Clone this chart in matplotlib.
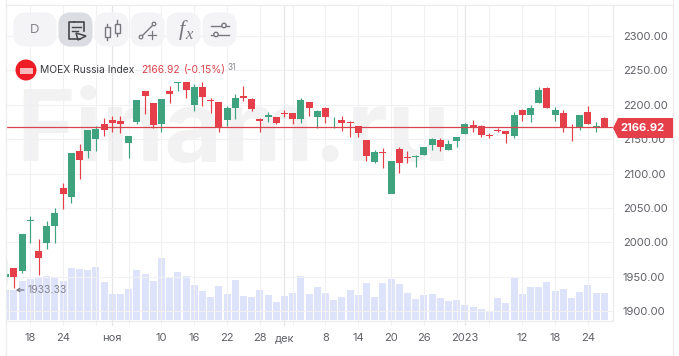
import matplotlib
matplotlib.use("Agg")
import matplotlib.pyplot as plt
from matplotlib.patches import FancyBboxPatch, Polygon, Circle, Rectangle

plt.rcParams["font.family"] = ["Inter", "DejaVu Sans"]

# daily candles
opens = [1949.5, 1962.6, 1958.2, 2030.9, 1987.3, 1998.9, 2023.6, 2079.3, 2065.8, 2132.7,
         2132.7, 2150.2, 2172.0, 2177.8, 2176.4, 2144.4, 2175.0, 2220.0, 2202.5, 2172.0,
         2220.0, 2231.6, 2233.1, 2199.6, 2225.8, 2206.9, 2204.0, 2177.8, 2195.3, 2212.7,
         2208.4, 2179.3, 2182.2, 2182.2, 2188.0, 2188.0, 2179.3, 2204.0, 2182.2, 2195.3,
         2174.2, 2177.8, 2174.9, 2169.1, 2148.7, 2116.7, 2129.8, 2070.2, 2135.6, 2124.0,
         2124.0, 2126.9, 2141.5, 2148.7, 2134.2, 2147.3, 2157.5, 2170.5, 2169.1, 2156.0,
         2163.3, 2161.8, 2154.5, 2192.4, 2185.1, 2202.5, 2224.4, 2185.1, 2188.0, 2167.6,
         2167.6, 2189.5, 2167.6, 2180.7]
highs = [1974.2, 1962.6, 2012.0, 2038.2, 2004.7, 2030.9, 2049.8, 2086.2, 2130.0, 2143.0,
         2163.3, 2169.0, 2181.0, 2183.6, 2183.6, 2146.0, 2206.9, 2220.0, 2202.5, 2208.4,
         2227.3, 2233.1, 2233.1, 2230.0, 2233.1, 2209.8, 2204.0, 2198.2, 2215.6, 2227.3,
         2209.8, 2181.0, 2189.5, 2182.2, 2192.4, 2188.0, 2209.8, 2204.0, 2192.4, 2196.7,
         2182.2, 2183.6, 2176.4, 2169.1, 2148.7, 2134.2, 2137.1, 2070.2, 2138.5, 2133.0,
         2127.0, 2138.5, 2151.6, 2151.6, 2148.7, 2153.1, 2173.5, 2177.8, 2170.5, 2159.0,
         2166.0, 2161.8, 2189.5, 2193.8, 2199.6, 2226.0, 2225.8, 2196.7, 2192.4, 2172.0,
         2185.1, 2198.2, 2174.9, 2182.2]
lows = [1939.3, 1933.33, 1955.3, 1998.9, 1952.4, 1990.2, 1998.9, 2048.4, 2057.1, 2092.0,
        2122.5, 2132.7, 2154.5, 2160.4, 2158.9, 2122.5, 2172.0, 2186.5, 2166.2, 2160.4,
        2202.5, 2220.0, 2209.8, 2190.9, 2198.2, 2188.0, 2160.4, 2169.1, 2179.3, 2205.5,
        2190.9, 2161.0, 2174.9, 2172.0, 2182.2, 2172.0, 2173.5, 2183.6, 2166.2, 2173.5,
        2166.2, 2161.8, 2153.1, 2153.1, 2118.0, 2115.3, 2108.0, 2070.2, 2100.7, 2115.0,
        2109.5, 2126.9, 2134.2, 2132.7, 2134.2, 2138.5, 2157.5, 2160.4, 2153.1, 2151.6,
        2160.4, 2144.4, 2151.6, 2176.4, 2175.0, 2202.5, 2195.3, 2176.4, 2160.4, 2147.3,
        2163.3, 2172.0, 2160.4, 2166.92]
closes = [1953.8, 1949.5, 2012.0, 2032.0, 1977.1, 2023.6, 2042.5, 2070.5, 2130.0, 2120.0,
          2163.3, 2164.7, 2163.3, 2173.5, 2172.0, 2154.5, 2206.9, 2212.7, 2170.5, 2208.4,
          2215.6, 2233.1, 2221.5, 2225.8, 2211.3, 2205.5, 2166.2, 2195.3, 2209.8, 2209.8,
          2193.8, 2176.4, 2185.1, 2173.5, 2186.5, 2179.3, 2206.9, 2195.3, 2190.9, 2182.2,
          2174.9, 2173.5, 2173.5, 2158.9, 2125.5, 2131.3, 2129.3, 2118.2, 2115.3, 2122.5,
          2125.0, 2138.5, 2150.2, 2138.5, 2142.9, 2153.1, 2172.0, 2167.6, 2156.0, 2155.0,
          2162.0, 2157.5, 2185.1, 2185.1, 2195.3, 2221.5, 2195.3, 2192.4, 2167.6, 2166.2,
          2185.1, 2172.0, 2169.1, 2166.92]
volumes = [30, 30, 39, 41, 43, 44, 43, 39, 52, 51, 50, 53, 38, 26, 26, 31, 50, 46, 39, 62,
           43, 48, 44, 35, 29, 23, 34, 26, 40, 24, 23, 30, 25, 18, 24, 27, 44, 26, 33, 27,
           20, 23, 30, 25, 37, 23, 37, 41, 36, 27, 21, 25, 26, 22, 19, 20, 15, 13, 11, 8,
           22, 17, 43, 26, 33, 33, 38, 29, 31, 22, 28, 35, 27, 27]

grid_idx = [3, 7, 11, 15, 19, 23, 27, 31, 35, 39, 43, 47, 51, 55, 59, 63, 67, 71]
month_idx = [13, 34, 56]
label_idx = [3, 7, 13, 19, 23, 27, 31, 34, 39, 43, 47, 51, 56, 63, 67, 71]
label_txt = ["18", "24", "ноя", "10", "16", "22", "28", "дек", "8", "14", "20", "26",
             "2023", "12", "18", "24"]
price_ticks = [1900, 1950, 2000, 2050, 2100, 2150, 2200, 2250, 2300]
last_price = 2166.92
low_price = 1933.33

UP = "#3fa37f"
DOWN = "#e5404a"
VOL = "#dde3fa"
GRID = "#f1f1f3"
W, H = 679, 356

fig = plt.figure(figsize=(W / 100, H / 100), dpi=100, facecolor="white")


def pixel_axes(z):
    a = fig.add_axes([0, 0, 1, 1], zorder=z)
    a.set_xlim(0, W)
    a.set_ylim(H, 0)
    a.axis("off")
    return a


# watermark sits under everything
back = pixel_axes(0)
back.text(16, 161, "Finam.ru", fontsize=72, fontweight="bold", family="Inter",
          color="#f2f2f3", va="baseline", ha="left")

# price panel, x is the bar number
left, right, top, bottom = 6, 613, 5, 326
vol = fig.add_axes([left / W, 1 - bottom / H, (right - left) / W, (bottom - top) / H], zorder=1)
ax = fig.add_axes(vol.get_position(), zorder=2)
ax.patch.set_visible(False)
vol.patch.set_visible(False)

x0 = 5.7
step = 8.2
xlim = ((left - x0) / step, (right - x0) / step)
ax.set_xlim(xlim)
vol.set_xlim(xlim)
px = 1.4545
ax.set_ylim(2300 - (bottom - 36) * px, 2300 + (36 - top) * px)
vol.set_ylim(-6, 315)

idx = list(range(len(opens)))
vol.bar(idx, volumes, width=0.85, color=VOL, linewidth=0)
vol.set_xticks([])
vol.set_yticks([])

for i in idx:
    c = UP if closes[i] >= opens[i] else DOWN
    ax.vlines(i, lows[i], highs[i], color=c, linewidth=0.85, zorder=3)
    lo = min(opens[i], closes[i])
    hi = max(opens[i], closes[i])
    ax.bar(i, max(hi - lo, 1.4), bottom=lo, width=0.85, color=c, linewidth=0, zorder=4)

ax.set_axisbelow(True)
ax.yaxis.tick_right()
ax.set_yticks(price_ticks)
ax.set_yticklabels(["%.2f" % p for p in price_ticks])
ax.set_xticks(label_idx)
ax.set_xticklabels(label_txt)
ax.tick_params(axis="both", length=0, labelsize=8, labelcolor="#5f6066")
ax.tick_params(axis="y", pad=7)
ax.tick_params(axis="x", pad=5)
ax.grid(axis="y", color=GRID, linewidth=0.8)
ax.grid(axis="x", visible=False)
for g in grid_idx:
    ax.axvline(g, color=GRID, linewidth=0.8, zorder=0)
for g in month_idx:
    ax.axvline(g, color="#e6e6ea", linewidth=0.9, zorder=0)
for s in ax.spines.values():
    s.set_visible(False)
for s in vol.spines.values():
    s.set_visible(False)

ax.axhline(last_price, color="#d9444c", linewidth=0.9, zorder=5)

# frame, toolbar, legend and price tag in pixels
ui = pixel_axes(3)
for xs, ys in [([6, 673], [5, 5]), ([6, 6], [0, H]), ([673, 673], [0, H]),
               ([613, 613], [5, 321]), ([6, 613], [320.5, 320.5])]:
    ui.plot(xs, ys, color="#ececef", linewidth=0.9, zorder=1)

buttons = [(15, 40), (60, 31), (96, 31), (132, 31), (168, 31), (204, 31)]
for n, (bx, bw) in enumerate(buttons):
    ui.add_patch(FancyBboxPatch((bx + 4, 18), bw - 8, 23, boxstyle="round,pad=0,rounding_size=6",
                                mutation_aspect=1, linewidth=8,
                                edgecolor="#dcdde2" if n == 1 else "#f4f4f7",
                                facecolor="#dcdde2" if n == 1 else "#f4f4f7", zorder=2))
ui.text(35, 30, "D", fontsize=9.5, color="#85868c", ha="center", va="center", zorder=3)

# note icon
dark = "#45464c"
ui.plot([80, 69, 69, 74], [39, 39, 22, 22], color=dark, linewidth=1.2, zorder=3)
ui.plot([74, 84, 84], [22, 22, 31], color=dark, linewidth=1.2, zorder=3)
ui.plot([72, 81], [27, 27], color=dark, linewidth=1.0, zorder=3)
ui.plot([72, 78], [31, 31], color=dark, linewidth=1.0, zorder=3)
ui.add_patch(Polygon([[76, 33], [86, 36], [78, 40]], closed=True, fill=False, edgecolor=dark,
                     linewidth=1.1, zorder=3))

# candle icon
gray = "#77787e"
ui.plot([107, 107], [24, 40], color=gray, linewidth=1.0, zorder=3)
ui.plot([117, 117], [20, 36], color=gray, linewidth=1.0, zorder=3)
ui.add_patch(Rectangle((104.5, 27), 5, 10, facecolor="#f4f4f7", edgecolor=gray, linewidth=1.0, zorder=4))
ui.add_patch(Rectangle((114.5, 24), 5, 9, facecolor="#f4f4f7", edgecolor=gray, linewidth=1.0, zorder=4))

# draw tool icon
ui.plot([142, 153], [36, 25], color=gray, linewidth=1.0, zorder=3)
ui.add_patch(Circle((141, 37), 1.8, facecolor="#f4f4f7", edgecolor=gray, linewidth=0.9, zorder=4))
ui.add_patch(Circle((154, 24), 1.8, facecolor="#f4f4f7", edgecolor=gray, linewidth=0.9, zorder=4))
ui.plot([148, 156], [35, 35], color=gray, linewidth=0.9, zorder=3)
ui.plot([152, 152], [31, 39], color=gray, linewidth=0.9, zorder=3)

# fx icon
ui.text(182, 30, "f", fontsize=16, family="Liberation Serif", style="italic", color=gray,
        ha="center", va="center", zorder=3)
ui.text(189, 35, "x", fontsize=12, family="Liberation Serif", style="italic", color=gray,
        ha="center", va="center", zorder=3)

# settings icon
ui.plot([211, 229], [25.5, 25.5], color=gray, linewidth=1.0, zorder=3)
ui.plot([211, 229], [34.5, 34.5], color=gray, linewidth=1.0, zorder=3)
ui.add_patch(Circle((224, 25.5), 2.2, facecolor="#f4f4f7", edgecolor=gray, linewidth=1.0, zorder=4))
ui.add_patch(Circle((216, 34.5), 2.2, facecolor="#f4f4f7", edgecolor=gray, linewidth=1.0, zorder=4))

# index title
ui.add_patch(Circle((26, 70), 10.5, facecolor="#ee1c25", edgecolor="none", zorder=3))
ui.add_patch(Rectangle((19.5, 68), 13, 5.5, facecolor="#f9b9bb", edgecolor="none", zorder=4))
ui.text(40, 70, "MOEX Russia Index", fontsize=7.4, color="#3a3b40", va="center", zorder=3)
ui.text(141, 70, "2166.92", fontsize=7.4, color="#d9444c", va="center", zorder=3)
ui.text(184, 70, "(-0.15%)", fontsize=7.4, color="#d9444c", va="center", zorder=3)
ui.text(228, 67, "31", fontsize=6, color="#85868c", va="center", zorder=3)

# price tag
ui.add_patch(Polygon([[613, 128], [618, 118], [673, 118], [673, 138], [618, 138]], closed=True,
                     facecolor="#e5404a", edgecolor="none", zorder=3))
ui.text(642, 128, "%.2f" % last_price, fontsize=8, fontweight="bold", color="white",
        ha="center", va="center", zorder=4)

# period low marker
ui.annotate("", xy=(16, 290), xytext=(24, 290), zorder=3,
            arrowprops=dict(arrowstyle="->,head_width=0.12,head_length=0.2", color="#6d6e74",
                            linewidth=0.8, shrinkA=0, shrinkB=0))
ui.text(28, 290, "%.2f" % low_price, fontsize=7.5, color="#85868f", va="center", zorder=3)

fig.savefig("out.png", dpi=100)
